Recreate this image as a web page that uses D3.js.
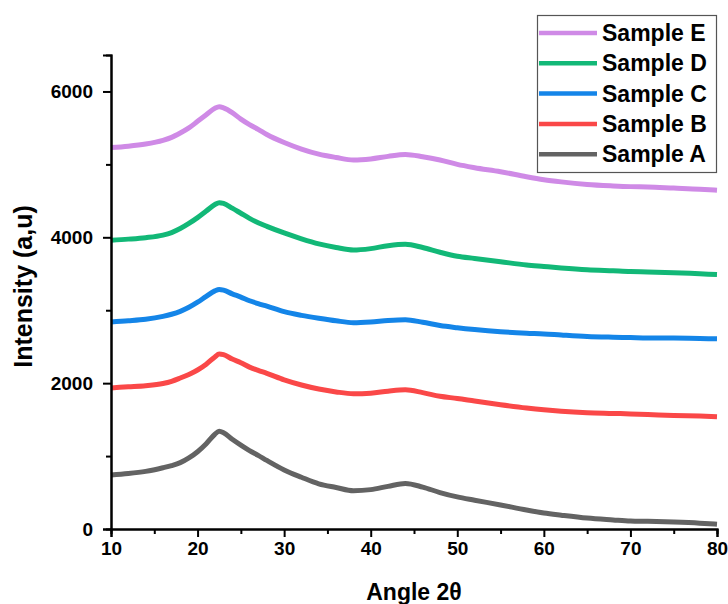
<!DOCTYPE html>
<html>
<head>
<meta charset="utf-8">
<script src="https://cdn.jsdelivr.net/npm/d3@7"></script>
<style>
  html, body { margin: 0; padding: 0; background: #fff; }
  svg { display: block; font-family: "Liberation Sans", Arial, sans-serif; }
</style>
</head>
<body>
<svg id="chart" width="728" height="604"></svg>
<script>
// ---- data ----
const angles = [10,12,14,16,17,18,19,20,21,22,22.5,23,24,25,26,27,28,30,32,34,36,38,40,42,44,46,48,50,52,55,58,60,62,65,68,70,72,75,78,80];

const sampleA = [740,760,790,840,870,910,975,1060,1170,1300,1340,1320,1230,1150,1075,1010,940,810,710,620,570,525,540,585,625,575,500,440,395,330,260,220,190,150,125,110,105,95,80,65];
const sampleB = [1935,1950,1965,1995,2025,2070,2120,2180,2260,2360,2400,2390,2330,2280,2220,2175,2135,2045,1975,1920,1880,1855,1862,1890,1908,1870,1820,1790,1755,1705,1660,1635,1615,1595,1585,1578,1570,1557,1548,1540];
const sampleC = [2840,2855,2875,2915,2945,2985,3040,3110,3190,3265,3285,3275,3225,3180,3130,3090,3055,2980,2930,2890,2855,2830,2840,2860,2870,2835,2790,2760,2735,2705,2685,2675,2660,2640,2630,2625,2620,2618,2612,2608];
const sampleD = [3960,3975,3995,4030,4065,4120,4190,4270,4360,4450,4475,4465,4400,4330,4260,4200,4150,4060,3980,3910,3860,3825,3845,3885,3905,3860,3795,3740,3710,3665,3620,3600,3580,3555,3540,3530,3525,3515,3500,3490];
const sampleE = [5230,5250,5280,5330,5370,5430,5500,5590,5680,5770,5790,5775,5710,5620,5545,5480,5410,5300,5210,5140,5095,5060,5075,5110,5135,5105,5060,5000,4955,4900,4830,4790,4760,4725,4705,4695,4690,4675,4660,4645];

const seriesNames = ["Sample A","Sample B","Sample C","Sample D","Sample E"];
const seriesValues = [sampleA, sampleB, sampleC, sampleD, sampleE];
const seriesColors = ["#636363","#fa4848","#1485e8","#12b877","#cf8ae6"];

const xTicks = [10,20,30,40,50,60,70,80];
const xMinorTicks = [15,25,35,45,55,65,75];
const yTicks = [0,2000,4000,6000];
const yMinorTicks = [1000,3000,5000];

// ---- layout ----
const svg = d3.select("#chart");
const mLeft = 111, mRight = 717, mTop = 55, mBottom = 529;

const x = d3.scaleLinear().domain([10, 80]).range([mLeft, mRight]);
const y = d3.scaleLinear().domain([0, 6500]).range([mBottom, mTop]);

// lines
const line = d3.line()
  .x(d => x(d[0]))
  .y(d => y(d[1]))
  .curve(d3.curveMonotoneX);

const plot = svg.append("g");
seriesValues.forEach((vals, i) => {
  const pts = angles.map((a, j) => [a, vals[j]]);
  plot.append("path")
    .attr("d", line(pts))
    .attr("fill", "none")
    .attr("stroke", seriesColors[i])
    .attr("stroke-width", 5)
    .attr("stroke-linejoin", "round")
    .attr("stroke-linecap", "butt");
});

// axes
const xAxis = d3.axisBottom(x).tickValues(xTicks).tickSize(8).tickPadding(5).tickFormat(d3.format("d"));
const xMinor = d3.axisBottom(x).tickValues(xMinorTicks).tickSize(5).tickFormat("");
const yAxis = d3.axisLeft(y).tickValues(yTicks).tickSize(8).tickPadding(10).tickFormat(d3.format("d"));
const yMinor = d3.axisLeft(y).tickValues(yMinorTicks).tickSize(5).tickFormat("");

function styleAxis(g) {
  g.select(".domain").attr("stroke", "#000").attr("stroke-width", 2);
  g.selectAll(".tick line").attr("stroke", "#000").attr("stroke-width", 2);
  g.selectAll(".tick text")
    .attr("fill", "#000")
    .style("font-size", "19px")
    .style("font-weight", "bold")
    .style("font-family", "'Liberation Sans', Arial, sans-serif");
}

svg.append("g").attr("transform", `translate(0,${mBottom})`).call(xMinor).call(styleAxis);
svg.append("g").attr("transform", `translate(0,${mBottom})`).call(xAxis).call(styleAxis);
svg.append("g").attr("transform", `translate(${mLeft},0)`).call(yMinor).call(styleAxis);
svg.append("g").attr("transform", `translate(${mLeft},0)`).call(yAxis).call(styleAxis);

// axis titles
svg.append("text")
  .attr("x", (mLeft + mRight) / 2)
  .attr("y", 600)
  .attr("text-anchor", "middle")
  .style("font-size", "23px")
  .style("font-weight", "bold")
  .text("Angle 2θ");

svg.append("text")
  .attr("transform", `translate(32,${(203 + 370) / 2}) rotate(-90)`)
  .attr("text-anchor", "middle")
  .style("font-size", "25px")
  .style("font-weight", "bold")
  .text("Intensity (a,u)");

// legend
const legend = svg.append("g");
legend.append("rect")
  .attr("x", 537.5).attr("y", 15.5)
  .attr("width", 179).attr("height", 157)
  .attr("fill", "#fff")
  .attr("stroke", "#555")
  .attr("stroke-width", 1.2);

const legendOrder = [4, 3, 2, 1, 0];
legendOrder.forEach((si, k) => {
  const cy = 33 + k * 30.3;
  legend.append("line")
    .attr("x1", 539).attr("x2", 597)
    .attr("y1", cy).attr("y2", cy)
    .attr("stroke", seriesColors[si])
    .attr("stroke-width", 4.5);
  legend.append("text")
    .attr("x", 602).attr("y", cy + 8)
    .style("font-size", "23px")
    .style("font-weight", "bold")
    .text(seriesNames[si]);
});
</script>
</body>
</html>
